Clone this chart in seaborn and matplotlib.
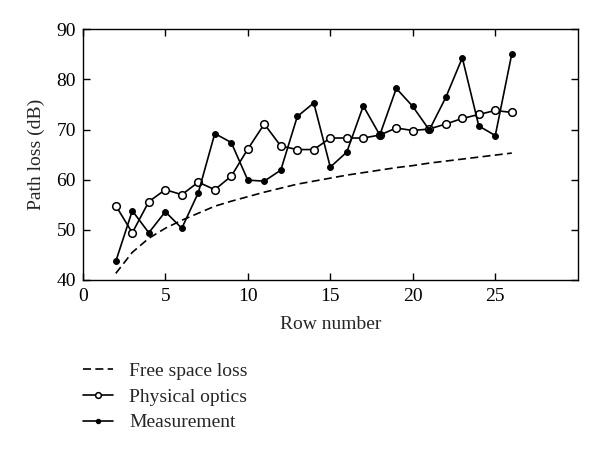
import numpy as np
import pandas as pd
import matplotlib
matplotlib.use("Agg")
import matplotlib.pyplot as plt
import seaborn as sns

# Valores
linhas = list(range(2, 27))
espaco_livre = [41.3, 45.5, 48.3, 50.3, 51.9, 53.3, 54.7, 55.7, 56.6, 57.5, 58.3, 59.1, 59.7,
                60.3, 60.9, 61.4, 61.9, 62.4, 62.8, 63.3, 63.7, 64.1, 64.5, 64.9, 65.3]
optica_fisica = [54.8, 49.4, 55.6, 58.0, 57.0, 59.5, 58.0, 60.7, 66.1, 71.1, 66.7, 66.0, 66.0,
                 68.3, 68.3, 68.3, 68.9, 70.3, 69.8, 70.1, 71.1, 72.2, 73.0, 73.8, 73.4]
medicao = [43.7, 53.8, 49.4, 53.6, 50.3, 57.4, 69.2, 67.4, 59.9, 59.7, 61.9, 72.6, 75.3,
           62.5, 65.5, 74.7, 68.9, 78.2, 74.6, 69.9, 76.4, 84.3, 70.7, 68.8, 85.1]

df = pd.DataFrame({'linha': linhas, 'livre': espaco_livre,
                   'optica': optica_fisica, 'medicao': medicao})

sns.set_theme(style="ticks")
plt.rcParams['font.family'] = ['Liberation Serif', 'DejaVu Serif']
plt.rcParams['font.size'] = 14

fig = plt.figure(figsize=(6, 4.5), dpi=100)
ax = fig.add_axes([0.138, 0.378, 0.825, 0.557])

sns.lineplot(data=df, x='linha', y='livre', ax=ax, color='black', lw=1.2,
             linestyle=(0, (4.8, 2.6)), label='Free space loss')
sns.lineplot(data=df, x='linha', y='optica', ax=ax, color='black', lw=1.2,
             marker='o', markersize=5.5, markerfacecolor='white',
             markeredgecolor='black', markeredgewidth=1.1, label='Physical optics')
sns.lineplot(data=df, x='linha', y='medicao', ax=ax, color='black', lw=1.2,
             marker='o', markersize=4.2, markerfacecolor='black',
             markeredgecolor='black', label='Measurement')

ax.set_xlim(0, 30)
ax.set_ylim(40, 90)
ax.set_xticks([0, 5, 10, 15, 20, 25])
ax.set_yticks([40, 50, 60, 70, 80, 90])
ax.tick_params(direction='in', top=True, right=True, length=5, width=1,
               labelsize=14, colors='black')
ax.tick_params(axis='x', pad=6)
ax.tick_params(axis='y', pad=5)
for s in ax.spines.values():
    s.set_color('black')
    s.set_linewidth(1)
ax.set_xlabel('Row number', fontsize=14, labelpad=8)
ax.set_ylabel('Path loss (dB)', fontsize=14, labelpad=8)

ax.legend(loc='upper left', bbox_to_anchor=(0.138, 0.195), bbox_transform=fig.transFigure,
          frameon=False, fontsize=14, handlelength=1.55, handletextpad=0.85,
          labelspacing=0.42, borderaxespad=0, borderpad=0, markerscale=0.75)

plt.savefig('out.png', dpi=100)
plt.close()
